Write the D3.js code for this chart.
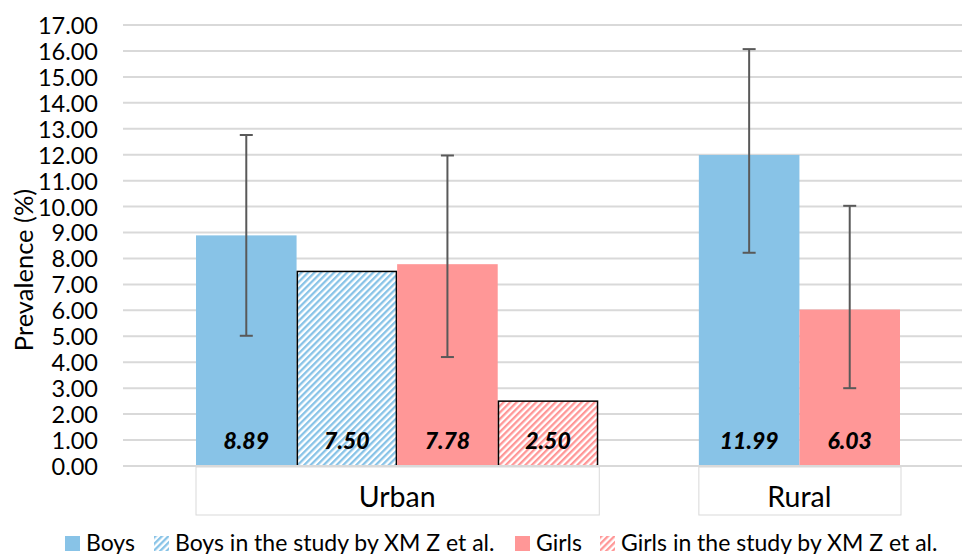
<!DOCTYPE html>
<html>
<head>
<meta charset="utf-8">
<script src="https://cdn.jsdelivr.net/npm/d3@7"></script>
<style>
html,body{margin:0;padding:0;background:#fff;}
svg{display:block;font-family:Lato, "Open Sans", sans-serif;}
</style>
</head>
<body>
<svg id="chart" width="962" height="554"></svg>
<script>
// ---- data ----
const categories = ["Urban", "Rural"];
const seriesNames = ["Boys", "Boys in the study by XM Z et al.", "Girls", "Girls in the study by XM Z et al."];
const urbanValues = [8.89, 7.50, 7.78, 2.50];
const ruralValues = [11.99, null, 6.03, null];
const urbanErrLow = [5.02, null, 4.20, null];
const urbanErrHigh = [12.76, null, 11.97, null];
const ruralErrLow = [8.22, null, 3.00, null];
const ruralErrHigh = [16.07, null, 10.03, null];
const yTicks = d3.range(0, 18, 1);

// ---- style ----
const colors = ["#88c3e7", "#88c3e7", "#ff9797", "#ff9797"];
const hatched = [false, true, false, true];

const W = 962, H = 554;
const svg = d3.select("#chart");

const y = d3.scaleLinear().domain([0, 17]).range([466, 25]);

// build bars
const catValues = {Urban: urbanValues, Rural: ruralValues};
const catLow = {Urban: urbanErrLow, Rural: ruralErrLow};
const catHigh = {Urban: urbanErrHigh, Rural: ruralErrHigh};
const bars = [];
const slots = [];
categories.forEach((c, ci) => {
  if (ci > 0) slots.push("gap" + ci);
  catValues[c].forEach((v, si) => {
    if (v == null) return;
    const id = c + "|" + si;
    slots.push(id);
    bars.push({cat: c, si, id, value: v, lo: catLow[c][si], hi: catHigh[c][si]});
  });
});
const x = d3.scaleBand().domain(slots).range([196, 900]).padding(0);

// patterns
const defs = svg.append("defs");
colors.forEach((col, i) => {
  if (!hatched[i]) return;
  const p = defs.append("pattern")
    .attr("id", "hatch" + i)
    .attr("patternUnits", "userSpaceOnUse")
    .attr("width", 4.6).attr("height", 4.6)
    .attr("patternTransform", "rotate(45)");
  p.append("rect").attr("width", 4.6).attr("height", 4.6).attr("fill", "#fff");
  p.append("rect").attr("width", 2.3).attr("height", 4.6).attr("fill", col);
});

// gridlines
svg.append("g").selectAll("line").data(yTicks).join("line")
  .attr("x1", 123).attr("x2", W)
  .attr("y1", d => y(d)).attr("y2", d => y(d))
  .attr("stroke", "#d9d9d9").attr("stroke-width", 2);

// y axis labels
const yAxis = d3.axisLeft(y).tickValues(yTicks).tickFormat(d3.format(".2f")).tickSize(0).tickPadding(0);
const ya = svg.append("g").attr("transform", "translate(98,0)").call(yAxis);
ya.select(".domain").remove();
ya.selectAll("text").attr("font-size", 23.5).attr("fill", "#000").attr("font-family", "Lato, sans-serif").attr("dy", "0.36em");

// axis title
svg.append("text")
  .attr("transform", "translate(33,270) rotate(-90)")
  .attr("text-anchor", "middle")
  .attr("font-size", 25.5)
  .attr("fill", "#000")
  .text("Prevalence (%)");

// bars
const bg = svg.append("g");
bg.selectAll("rect").data(bars).join("rect")
  .attr("x", d => x(d.id) + (hatched[d.si] ? 0.75 : 0))
  .attr("width", d => x.bandwidth() - (hatched[d.si] ? 1.5 : 0))
  .attr("y", d => y(d.value))
  .attr("height", d => y(0) - y(d.value))
  .attr("fill", d => hatched[d.si] ? `url(#hatch${d.si})` : colors[d.si])
  .attr("stroke", d => hatched[d.si] ? "#000" : "none")
  .attr("stroke-width", 1.5);

// error bars
const eb = svg.append("g").attr("stroke", "#595959").attr("stroke-width", 2);
bars.filter(d => d.lo != null).forEach(d => {
  const cx = x(d.id) + x.bandwidth() / 2;
  eb.append("line").attr("x1", cx).attr("x2", cx).attr("y1", y(d.hi)).attr("y2", y(d.lo));
  eb.append("line").attr("x1", cx - 6.5).attr("x2", cx + 6.5).attr("y1", y(d.hi)).attr("y2", y(d.hi));
  eb.append("line").attr("x1", cx - 6.5).attr("x2", cx + 6.5).attr("y1", y(d.lo)).attr("y2", y(d.lo));
});

// value labels
svg.append("g").selectAll("text").data(bars).join("text")
  .attr("x", d => x(d.id) + x.bandwidth() / 2)
  .attr("y", y(1) + 8.5)
  .attr("text-anchor", "middle")
  .attr("font-size", 23)
  .attr("font-weight", 900)
  .attr("font-style", "italic")
  .attr("fill", "#000")
  .text(d => d.value.toFixed(2));

// bottom axis line
svg.append("line").attr("x1", 123).attr("x2", W).attr("y1", y(0)).attr("y2", y(0))
  .attr("stroke", "#d9d9d9").attr("stroke-width", 2);

// category boxes
categories.forEach(c => {
  const ids = bars.filter(b => b.cat === c).map(b => b.id);
  const x0 = x(ids[0]);
  const x1 = x(ids[ids.length - 1]) + x.bandwidth();
  svg.append("rect").attr("x", x0).attr("y", 467).attr("width", x1 - x0 + 1).attr("height", 48)
    .attr("fill", "#fff").attr("stroke", "#d9d9d9").attr("stroke-width", 1);
  svg.append("text").attr("x", (x0 + x1) / 2).attr("y", 507)
    .attr("text-anchor", "middle").attr("font-size", 28.5).attr("fill", "#000").text(c);
});

// legend
const legendX = [65, 154, 515, 600];
const lg = svg.append("g");
seriesNames.forEach((s, i) => {
  const g = lg.append("g").attr("transform", `translate(${legendX[i]},536)`);
  g.append("rect").attr("width", 15).attr("height", 15)
    .attr("fill", hatched[i] ? `url(#hatch${i})` : colors[i]);
  g.append("text").attr("x", 21).attr("y", 14.5).attr("font-size", 23).attr("fill", "#000").text(s);
});
</script>
</body>
</html>
